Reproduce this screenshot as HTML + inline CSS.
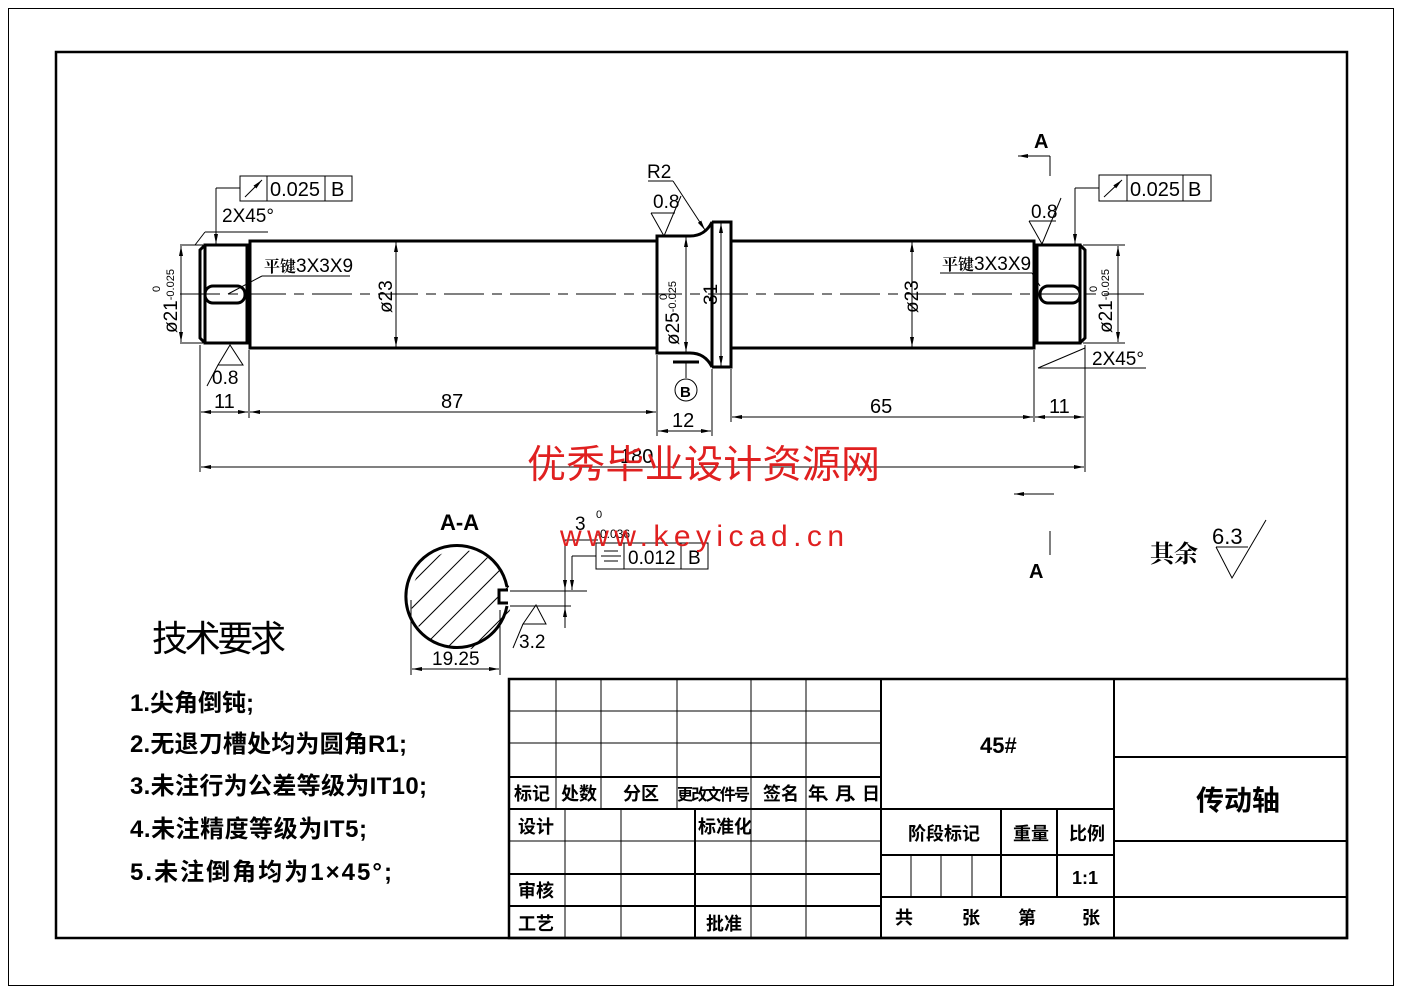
<!DOCTYPE html>
<html><head><meta charset="utf-8"><style>
html,body{margin:0;padding:0;background:#fff}
svg{display:block}
text{font-family:"Liberation Sans","Noto Sans CJK SC",sans-serif}
.c{font-family:"Noto Serif CJK SC","Noto Sans CJK SC",serif;font-weight:bold}
</style></head><body>
<svg width="1403" height="992" viewBox="0 0 1403 992" xmlns="http://www.w3.org/2000/svg">
<defs>
<marker id="ar" markerWidth="10" markerHeight="6" refX="10" refY="3" orient="auto-start-reverse" markerUnits="userSpaceOnUse"><path d="M0,1 L10,3 L0,5 z" fill="#000"/></marker>
<clipPath id="cc"><circle cx="461" cy="600" r="50"/></clipPath>
</defs>
<rect x="0" y="0" width="1403" height="992" fill="#fff"/>
<rect x="8.5" y="8.5" width="1385" height="977" fill="none" stroke="#000" stroke-width="1"/>
<rect x="56" y="52" width="1291" height="886" fill="none" stroke="#000" stroke-width="2.5"/>

<line x1="180" y1="294" x2="1152" y2="294" stroke="#000" stroke-width="1" stroke-dasharray="40,8,10,8"/>

<g fill="none" stroke="#000" stroke-width="3">
<path d="M205,245 L247,245 L247,343 L205,343 Z"/>
<path d="M205,245 L200,250 L200,338 L205,343"/>
<path d="M250,241 L657,241 L657,348 L250,348 Z"/>
<path d="M657,236 L690,236 Q705,236 712,222 L712,367 Q705,353 690,353 L657,353 Z"/>
<path d="M712,222 L731,222 L731,367 L712,367"/>
<path d="M731,241 L1034,241 L1034,348 L731,348"/>
<path d="M1037,245 L1080,245 L1080,343 L1037,343 Z"/>
<path d="M1080,245 L1085,250 L1085,338 L1080,343"/>
<rect x="205" y="286" width="40" height="17" rx="8"/>
<rect x="1040" y="286" width="40" height="17" rx="8"/>
</g>

<g stroke="#000" stroke-width="1" fill="none">
<line x1="200" y1="345" x2="200" y2="472"/>
<line x1="249" y1="350" x2="249" y2="418"/>
<line x1="657" y1="355" x2="657" y2="436"/>
<line x1="712" y1="369" x2="712" y2="436"/>
<line x1="731" y1="369" x2="731" y2="422"/>
<line x1="1034" y1="350" x2="1034" y2="422"/>
<line x1="1085" y1="345" x2="1085" y2="472"/>
<line x1="201" y1="412" x2="248" y2="412" marker-start="url(#ar)" marker-end="url(#ar)"/>
<line x1="250" y1="412" x2="656" y2="412" marker-start="url(#ar)" marker-end="url(#ar)"/>
<line x1="658" y1="431" x2="711" y2="431" marker-start="url(#ar)" marker-end="url(#ar)"/>
<line x1="732" y1="417" x2="1033" y2="417" marker-start="url(#ar)" marker-end="url(#ar)"/>
<line x1="1035" y1="417" x2="1084" y2="417" marker-start="url(#ar)" marker-end="url(#ar)"/>
<line x1="201" y1="467" x2="1084" y2="467" marker-start="url(#ar)" marker-end="url(#ar)"/>
<line x1="180" y1="245" x2="203" y2="245"/><line x1="180" y1="343" x2="203" y2="343"/>
<line x1="181" y1="246" x2="181" y2="342" marker-start="url(#ar)" marker-end="url(#ar)"/>
<line x1="1083" y1="245" x2="1125" y2="245"/><line x1="1083" y1="343" x2="1125" y2="343"/>
<line x1="1118" y1="246" x2="1118" y2="342" marker-start="url(#ar)" marker-end="url(#ar)"/>
<line x1="396" y1="242" x2="396" y2="347" marker-start="url(#ar)" marker-end="url(#ar)"/>
<line x1="912" y1="242" x2="912" y2="347" marker-start="url(#ar)" marker-end="url(#ar)"/>
<line x1="686" y1="237" x2="686" y2="352" marker-start="url(#ar)" marker-end="url(#ar)"/>
<line x1="721" y1="223" x2="721" y2="366" marker-start="url(#ar)" marker-end="url(#ar)"/>
<line x1="262" y1="276" x2="350" y2="276"/><line x1="262" y1="276" x2="228" y2="294"/>
<line x1="940" y1="273" x2="1032" y2="273"/><line x1="1032" y1="273" x2="1040" y2="286"/>
<line x1="205" y1="232" x2="268" y2="232"/><line x1="205" y1="232" x2="195" y2="245"/>
<line x1="1038" y1="368" x2="1085" y2="348"/><line x1="1038" y1="368" x2="1146" y2="368"/>
<rect x="240" y="176" width="112" height="25"/><line x1="267" y1="176" x2="267" y2="201"/><line x1="325" y1="176" x2="325" y2="201"/>
<line x1="245" y1="197" x2="262" y2="180" marker-end="url(#ar)"/>
<line x1="240" y1="188" x2="216" y2="188"/><line x1="216" y1="188" x2="216" y2="244" marker-end="url(#ar)"/>
<rect x="1099" y="175" width="112" height="26"/><line x1="1127" y1="175" x2="1127" y2="201"/><line x1="1183" y1="175" x2="1183" y2="201"/>
<line x1="1104" y1="197" x2="1122" y2="180" marker-end="url(#ar)"/>
<line x1="1099" y1="188" x2="1075" y2="188"/><line x1="1075" y1="188" x2="1075" y2="244" marker-end="url(#ar)"/>
<path d="M218,365 L230,345 L243,365 Z M218,365 L207,386"/>
<path d="M651,213 L664,236 L681,196 M651,213 L675,213"/>
<path d="M1029,221 L1042,244 L1061,198 M1029,221 L1056,221"/>
<path d="M1216,547 L1232,578 L1266,520 M1216,547 L1248,547"/>
<line x1="648" y1="181" x2="673" y2="181"/><line x1="673" y1="181" x2="705" y2="230" marker-end="url(#ar)"/>
<line x1="673" y1="362" x2="699" y2="362" stroke-width="3"/><line x1="686" y1="362" x2="686" y2="378"/>
<circle cx="686" cy="390" r="11"/>
<line x1="1018" y1="156" x2="1050" y2="156" marker-start="url(#ar)"/><line x1="1050" y1="156" x2="1050" y2="176"/>
<line x1="1014" y1="494" x2="1054" y2="494" marker-start="url(#ar)"/><line x1="1050" y1="531" x2="1050" y2="555"/>
</g>

<g font-size="20" fill="#000">
<text x="222" y="222" font-size="19">2X45°</text>
<text x="270" y="196">0.025</text><text x="331" y="196">B</text>
<text x="1130" y="196">0.025</text><text x="1188" y="196">B</text>
<text x="1092" y="365" font-size="19">2X45°</text>
<text x="212" y="384" font-size="19">0.8</text>
<text x="653" y="208" font-size="19">0.8</text>
<text x="1031" y="218" font-size="19">0.8</text>
<text x="647" y="178" font-size="19">R2</text>
<text x="214" y="408">11</text><text x="441" y="408">87</text>
<text x="672" y="427">12</text><text x="870" y="413">65</text><text x="1049" y="413">11</text>
<text x="620" y="463">180</text>
<text x="264" y="272" font-size="19"><tspan class="c" font-size="16">平键</tspan>3X3X9</text>
<text x="942" y="270" font-size="19"><tspan class="c" font-size="16">平键</tspan>3X3X9</text>
<text x="680" y="397" font-size="15" font-weight="bold">B</text>
<text transform="translate(392,313) rotate(-90)" font-size="19">ø23</text>
<text transform="translate(918,313) rotate(-90)" font-size="19">ø23</text>
<text transform="translate(717,305) rotate(-90)" font-size="19">31</text>
<text transform="translate(177,333) rotate(-90)" font-size="19">ø21<tspan font-size="11" dy="-3">-0.025</tspan></text>
<text transform="translate(160,292) rotate(-90)" font-size="11">0</text>
<text transform="translate(1112,333) rotate(-90)" font-size="19">ø21<tspan font-size="11" dy="-3">-0.025</tspan></text>
<text transform="translate(1097,292) rotate(-90)" font-size="11">0</text>
<text transform="translate(679,345) rotate(-90)" font-size="19">ø25<tspan font-size="11" dy="-3">-0.025</tspan></text>
<text transform="translate(667,300) rotate(-90)" font-size="11">0</text>
<text x="1034" y="148" font-size="20" font-weight="bold" font-family="Liberation Serif">A</text>
<text x="1029" y="578" font-size="20" font-weight="bold" font-family="Liberation Serif">A</text>
<text class="c" x="1150" y="562" font-size="24">其余</text>
<text x="1212" y="544" font-size="22">6.3</text>
</g>

<text x="440" y="530" font-size="22" font-weight="bold" font-family="Liberation Serif">A-A</text>
<g clip-path="url(#cc)" stroke="#000" stroke-width="1">
<line x1="400" y1="620" x2="480" y2="540"/><line x1="400" y1="645" x2="500" y2="545"/>
<line x1="410" y1="660" x2="520" y2="550"/><line x1="430" y1="665" x2="530" y2="565"/>
<line x1="450" y1="670" x2="530" y2="590"/><line x1="400" y1="595" x2="460" y2="535"/>
<line x1="400" y1="570" x2="440" y2="530"/>
</g>
<path d="M507,587 A51,51 0 1,0 507,606" fill="none" stroke="#000" stroke-width="3"/>
<rect x="500" y="590" width="12" height="13" fill="#fff"/>
<path d="M508,590 L499,590 L499,603 L508,603" fill="none" stroke="#000" stroke-width="3"/>
<g stroke="#000" stroke-width="1" fill="none">
<line x1="510" y1="591" x2="587" y2="591"/><line x1="510" y1="606" x2="571" y2="606"/>
<line x1="565" y1="540" x2="565" y2="628"/>
<line x1="565" y1="570" x2="565" y2="590" marker-end="url(#ar)"/>
<line x1="565" y1="625" x2="565" y2="607" marker-end="url(#ar)"/>
<line x1="565" y1="540" x2="598" y2="540"/>
<line x1="572" y1="556" x2="596" y2="556"/><line x1="572" y1="556" x2="572" y2="590" marker-end="url(#ar)"/>
<rect x="596" y="543" width="112" height="26"/><line x1="624" y1="543" x2="624" y2="569"/><line x1="681" y1="543" x2="681" y2="569"/>
<line x1="604" y1="551" x2="618" y2="551"/><line x1="601" y1="556" x2="621" y2="556"/><line x1="604" y1="561" x2="618" y2="561"/>
<path d="M523,624 L536,605 L546,624 Z M523,624 L513,648"/>
<line x1="411" y1="600" x2="411" y2="675"/><line x1="500" y1="610" x2="500" y2="675"/>
<line x1="412" y1="669" x2="499" y2="669" marker-start="url(#ar)" marker-end="url(#ar)"/>
</g>
<g font-size="19" fill="#000">
<text x="575" y="530">3</text><text x="596" y="518" font-size="11">0</text><text x="596" y="538" font-size="12">-0.036</text>
<text x="628" y="564">0.012</text><text x="688" y="564">B</text>
<text x="519" y="648">3.2</text>
<text x="432" y="665">19.25</text>
</g>

<text x="527" y="478" font-size="39" fill="#e02020" font-family="Noto Serif CJK SC,serif" textLength="353">优秀毕业设计资源网</text>
<text x="560" y="546" font-size="30" fill="#e02020" font-family="Liberation Mono,monospace" textLength="284">www.keyicad.cn</text>

<g class="c" fill="#000">
<text x="152" y="651" font-size="36" style="font-weight:normal" textLength="134">技术要求</text>
<text x="130" y="711" font-size="24">1.尖角倒钝;</text>
<text x="130" y="752" font-size="24" textLength="277">2.无退刀槽处均为圆角R1;</text>
<text x="130" y="794" font-size="24" textLength="297">3.未注行为公差等级为IT10;</text>
<text x="130" y="837" font-size="24" textLength="237">4.未注精度等级为IT5;</text>
<text x="130" y="880" font-size="24" textLength="262">5.未注倒角均为1×45°;</text>
</g>

<g stroke="#000" fill="none">
<rect x="509" y="679" width="838" height="259" stroke-width="2.5"/>
<g stroke-width="1">
<line x1="509" y1="711" x2="881" y2="711"/><line x1="509" y1="743" x2="881" y2="743"/>
<line x1="556" y1="679" x2="556" y2="809"/><line x1="601" y1="679" x2="601" y2="809"/>
<line x1="677" y1="679" x2="677" y2="809"/><line x1="751" y1="679" x2="751" y2="938"/>
<line x1="806" y1="679" x2="806" y2="938"/>
<line x1="565" y1="809" x2="565" y2="938"/><line x1="621" y1="809" x2="621" y2="938"/>
<line x1="509" y1="841" x2="881" y2="841"/>
<line x1="911" y1="855" x2="911" y2="897"/><line x1="941" y1="855" x2="941" y2="897"/><line x1="972" y1="855" x2="972" y2="897"/>
</g>
<g stroke-width="2">
<line x1="509" y1="777" x2="881" y2="777"/><line x1="509" y1="809" x2="881" y2="809"/>
<line x1="509" y1="874" x2="881" y2="874"/><line x1="509" y1="906" x2="881" y2="906"/>
<line x1="695" y1="809" x2="695" y2="938"/>
<line x1="881" y1="679" x2="881" y2="938"/><line x1="1114" y1="679" x2="1114" y2="938"/>
<line x1="881" y1="809" x2="1114" y2="809"/><line x1="881" y1="855" x2="1114" y2="855"/><line x1="881" y1="897" x2="1114" y2="897"/>
<line x1="1001" y1="809" x2="1001" y2="897"/><line x1="1057" y1="809" x2="1057" y2="897"/>
<line x1="1114" y1="757" x2="1347" y2="757"/><line x1="1114" y1="841" x2="1347" y2="841"/><line x1="1114" y1="897" x2="1347" y2="897"/>
</g>
</g>
<g class="c" fill="#000" font-size="18">
<text x="514" y="800">标记</text><text x="561" y="800">处数</text><text x="623" y="800">分区</text>
<text x="677" y="800" font-size="16" textLength="73">更改文件号</text><text x="763" y="800">签名</text><text x="808" y="800" textLength="72">年、月、日</text>
<text x="518" y="833">设计</text><text x="698" y="833">标准化</text>
<text x="518" y="897">审核</text><text x="518" y="930">工艺</text><text x="706" y="930">批准</text>
<text x="980" y="753" font-size="22">45#</text>
<text x="908" y="840">阶段标记</text><text x="1013" y="840">重量</text><text x="1069" y="840">比例</text>
<text x="1072" y="884">1:1</text>
<text x="895" y="924">共</text><text x="962" y="924">张</text><text x="1018" y="924">第</text><text x="1082" y="924">张</text>
<text x="1196" y="810" font-size="28">传动轴</text>
</g>
</svg>
</body></html>
